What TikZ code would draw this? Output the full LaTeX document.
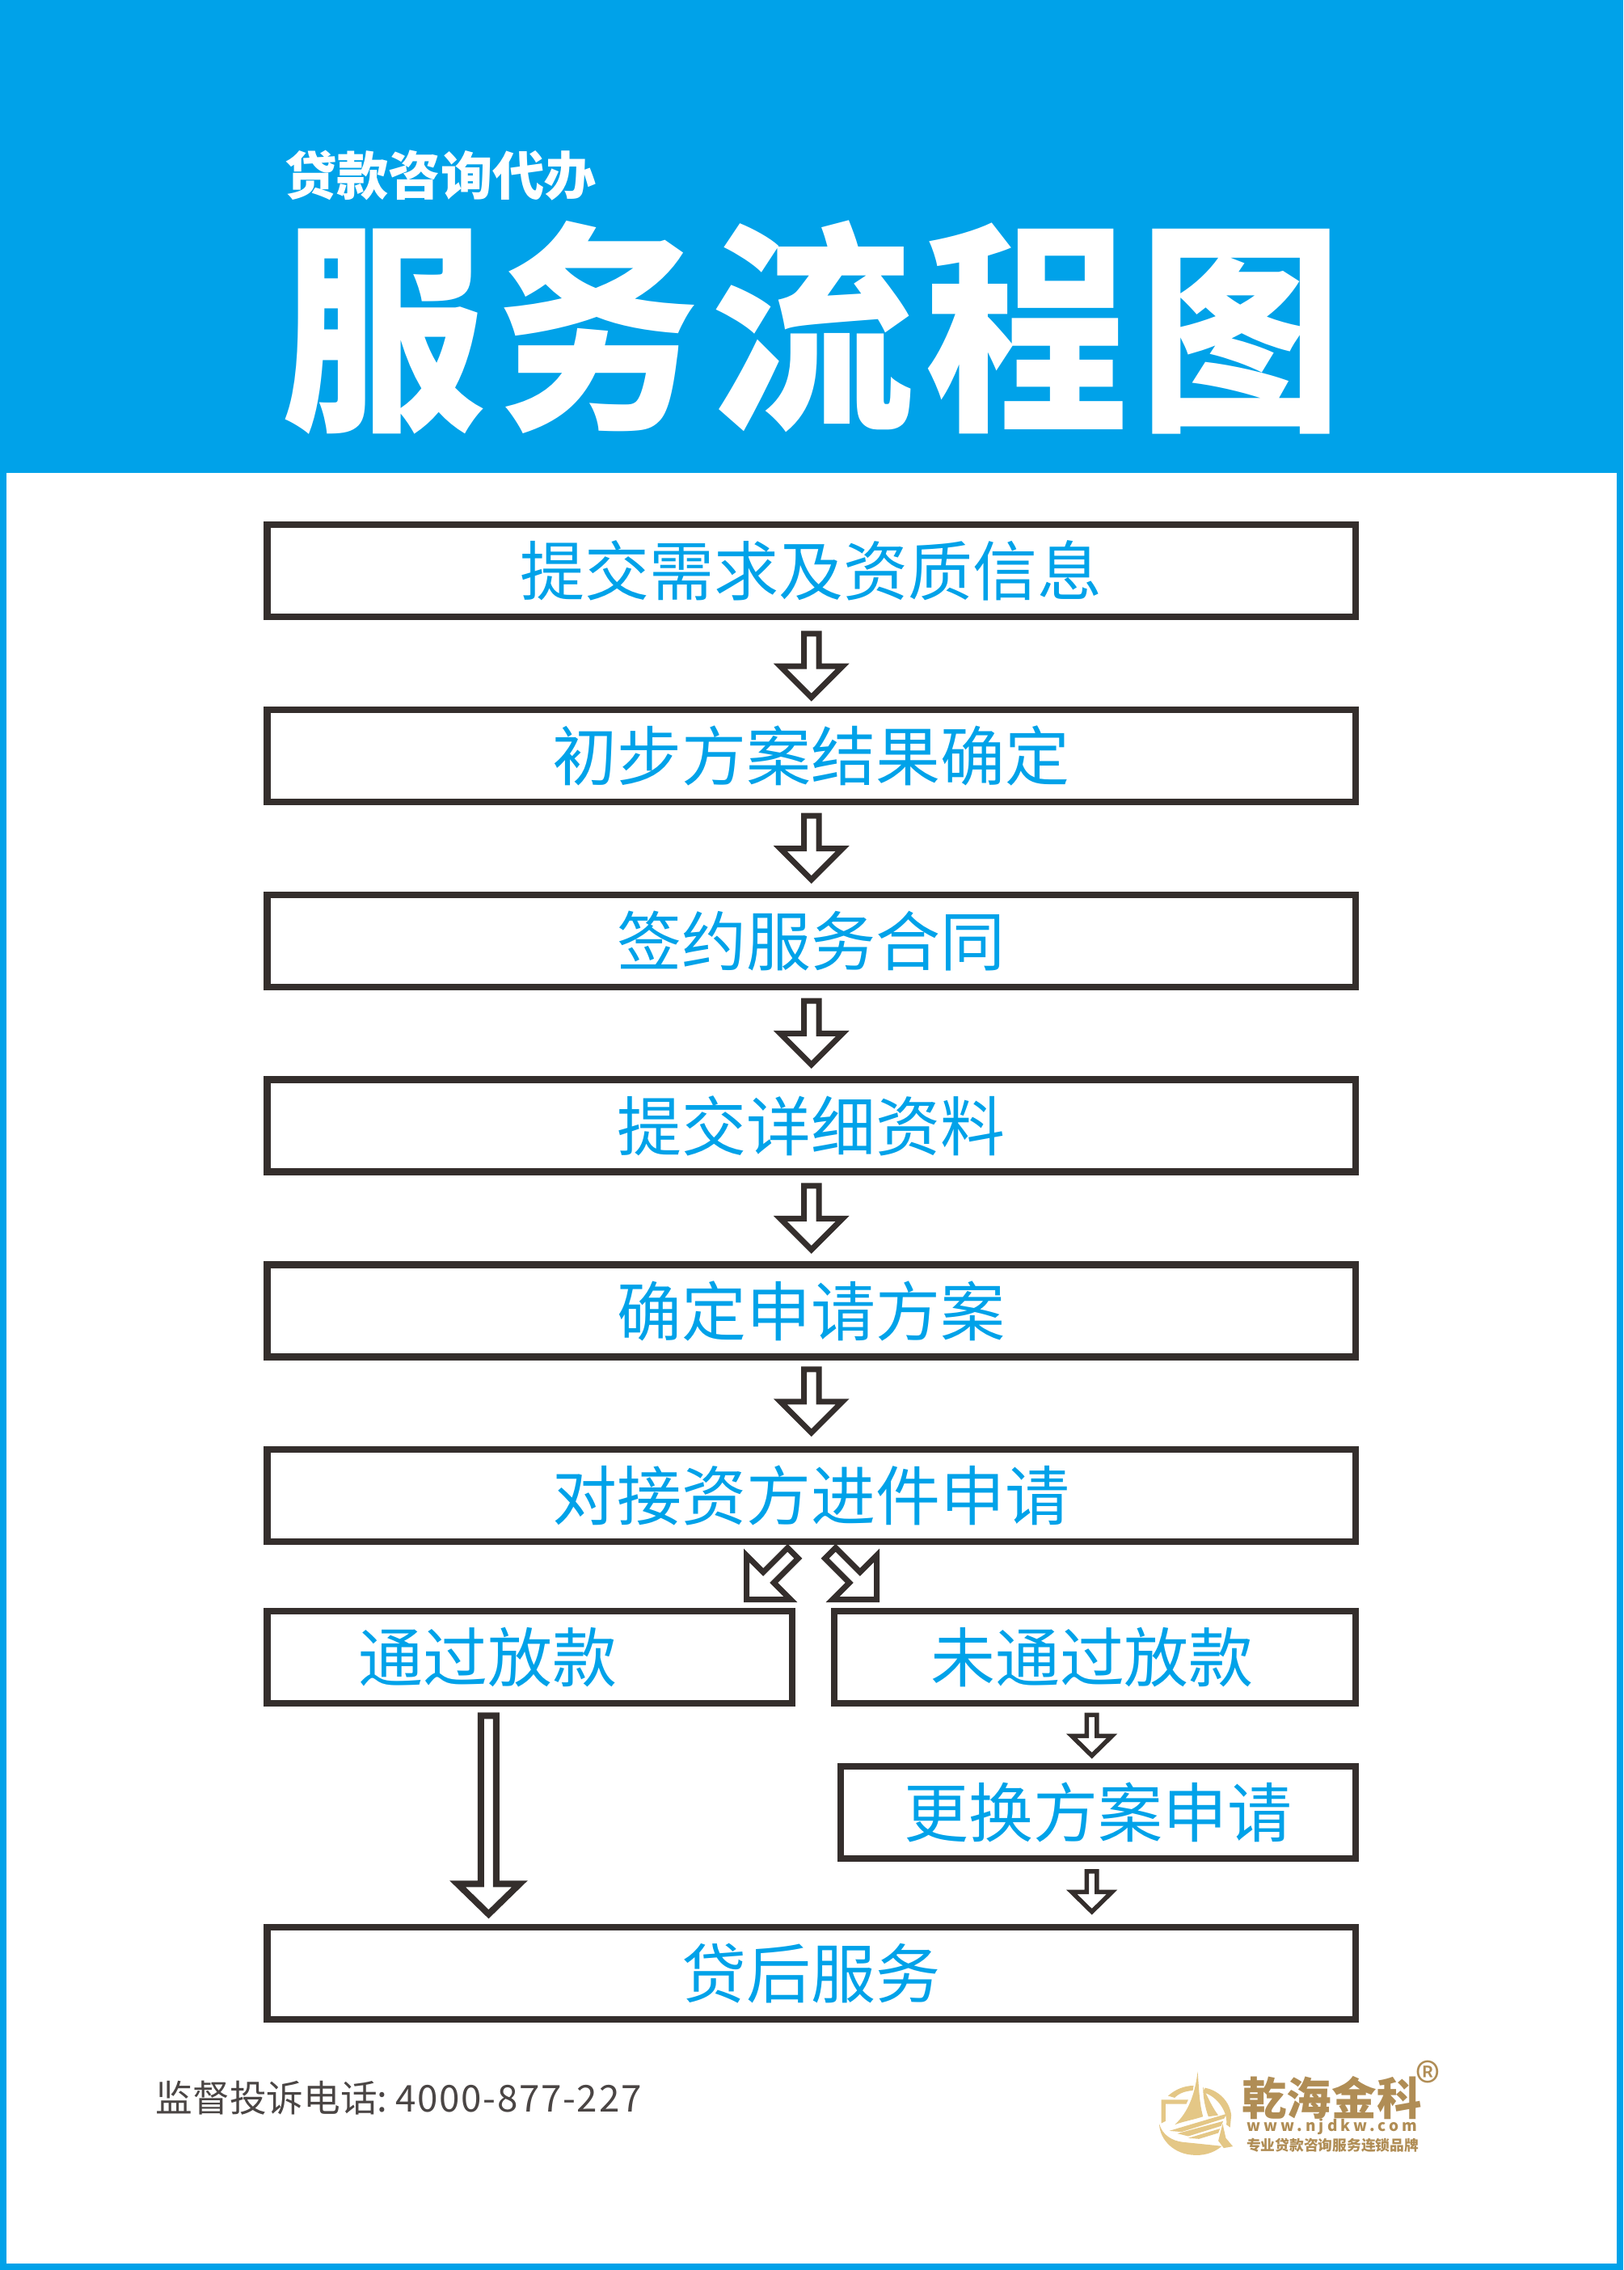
\documentclass[tikz,border=0pt]{standalone}
\usepackage{fontspec}
\usetikzlibrary{calc}
\setmainfont{Noto Sans CJK SC}
\newfontfamily\flowfont{Noto Sans CJK SC}
\newfontfamily\titlefont{Noto Sans CJK SC Black}
\definecolor{flowblue}{HTML}{00A2E9}
\definecolor{boxline}{HTML}{342E2C}
\definecolor{footgray}{HTML}{4A4544}
\definecolor{goldlight}{HTML}{E4C786}
\definecolor{golddark}{HTML}{B08D55}
\tikzset{
	flowbox/.style={draw=boxline, line width=.085cm, minimum height=1.14cm, inner sep=0pt, text=flowblue, font=\flowfont\fontsize{22.75}{27}\selectfont},
	hollowarrow/.style n args={5}{draw=boxline, to path={
		($(\tikztostart)!#4!(\tikztotarget)!#1!90:(\tikztotarget)$)
		-- ($(\tikztotarget)!#5+#3!(\tikztostart)!#1!-90:(\tikztostart)$)
		-- ($(\tikztotarget)!#5+#3!(\tikztostart)!#2!-90:(\tikztostart)$)
		-- ($(\tikztotarget)!#5!(\tikztostart)$)
		-- ($(\tikztotarget)!#5+#3!(\tikztostart)!#2!90:(\tikztostart)$)
		-- ($(\tikztotarget)!#5+#3!(\tikztostart)!#1!90:(\tikztostart)$)
		-- ($(\tikztostart)!#4!(\tikztotarget)!#1!-90:(\tikztotarget)$)
		-- cycle}},
	midarrow/.style 2 args={hollowarrow={.0925cm}{.385cm}{.385cm}{#1}{#2}, line width=.07cm},
	longarrow/.style 2 args={hollowarrow={.095cm}{.385cm}{.375cm}{#1}{#2}, line width=.08cm},
	smallarrow/.style 2 args={hollowarrow={.0625cm}{.25cm}{.245cm}{#1}{#2}, line width=.055cm},
}
\begin{document}
\begin{tikzpicture}
	\useasboundingbox (0,0) rectangle (20.08,-28.08);
	% page
	\fill[flowblue] (0,0) rectangle (20.08,-28.08);
	\fill[white] (.08,-5.85) rectangle (20,-28);
	% heading
	\node[text=white, font=\flowfont\bfseries\fontsize{18.3}{22}\selectfont, anchor=center] (subtitle) at (5.45,-2.175) {贷款咨询代办};
	\node[text=white, font=\titlefont\fontsize{73}{80}\selectfont, anchor=center, xscale=.98, yscale=1.08] (title) at (10.05,-4.05) {服\hspace{.14cm}务\hspace{.14cm}流\hspace{.14cm}程\hspace{.14cm}图};
	% boxes
	\node[flowbox, minimum width=13.465cm] (needbox) at (10.0375,-7.06) {提交需求及资质信息};
	\node[flowbox, minimum width=13.465cm] (planbox) at (10.0375,-9.349) {初步方案结果确定};
	\node[flowbox, minimum width=13.465cm] (signbox) at (10.0375,-11.638) {签约服务合同};
	\node[flowbox, minimum width=13.465cm] (filebox) at (10.0375,-13.927) {提交详细资料};
	\node[flowbox, minimum width=13.465cm] (fixbox) at (10.0375,-16.216) {确定申请方案};
	\node[flowbox, minimum width=13.465cm] (applybox) at (10.0375,-18.5) {对接资方进件申请};
	\node[flowbox, minimum width=6.495cm] (passbox) at (6.5525,-20.5) {通过放款\hspace{1.04cm}\null};
	\node[flowbox, minimum width=6.45cm] (failbox) at (13.545,-20.5) {未通过放款\hspace{.07cm}\null};
	\node[flowbox, minimum width=6.37cm] (swapbox) at (13.585,-22.42) {更换方案申请};
	\node[flowbox, minimum width=13.465cm] (afterbox) at (10.0375,-24.41) {贷后服务};
	% free ends
	\coordinate (splitla) at (9.808,-19.212);
	\coordinate (splitlb) at (9.235,-19.785);
	\coordinate (splitra) at (10.272,-19.212);
	\coordinate (splitrb) at (10.845,-19.785);
	\coordinate (passout) at ($(passbox.south)+(-.508,0)$);
	\coordinate (afterin) at (passout |- afterbox.north);
	\coordinate (failout) at ($(failbox.south)+(-.038,0)$);
	\coordinate (swapin) at (failout |- swapbox.north);
	\coordinate (swapout) at (failout |- swapbox.south);
	\coordinate (afterin2) at (failout |- afterbox.north);
	% arrows
	\draw[midarrow={.165cm}{.11cm}] (needbox.south) to (planbox.north);
	\draw[midarrow={.13cm}{.145cm}] (planbox.south) to (signbox.north);
	\draw[midarrow={.13cm}{.145cm}] (signbox.south) to (filebox.north);
	\draw[midarrow={.13cm}{.145cm}] (filebox.south) to (fixbox.north);
	\draw[midarrow={.11cm}{.165cm}] (fixbox.south) to (applybox.north);
	\draw[midarrow={0cm}{0cm}] (splitla) to (splitlb);
	\draw[midarrow={0cm}{0cm}] (splitra) to (splitrb);
	\draw[longarrow={.11cm}{.12cm}] (passout) to (afterin);
	\draw[smallarrow={.10cm}{.09cm}] (failout) to (swapin);
	\draw[smallarrow={.115cm}{.15cm}] (swapout) to (afterin2);
	% footer
	\node[text=footgray, font=\flowfont\fontsize{13}{16}\selectfont, anchor=west, inner sep=0pt] (phone) at (1.92,-25.95) {\spaceskip=.066cm\relax 监督投诉电话: {\addfontfeature{LetterSpace=3.7}4000-877-227}};
	% logo
	\begin{scope}[shift={(14.2cm,-25.5cm)}, x=.003333cm, y=-.003333cm]
		\fill[goldlight] (185,38) .. controls (176,120) and (150,190) .. (100,235) .. controls (135,222) and (165,218) .. (205,205) .. controls (190,150) and (190,90) .. (185,38) -- cycle;
		\fill[goldlight] (205,95) .. controls (220,130) and (245,180) .. (262,200) -- (225,205) .. controls (212,170) and (205,130) .. (205,95) -- cycle;
		\fill[goldlight] (75,128) .. controls (100,105) and (135,90) .. (170,90) -- (167,108) .. controls (140,110) and (115,118) .. (100,135) -- cycle;
		\fill[goldlight] (50,142) -- (150,142) -- (143,158) -- (66,158) -- (66,222) -- (50,230) -- cycle;
		\fill[goldlight] (212,98) .. controls (265,108) and (305,150) .. (310,200) -- (306,245) -- (292,235) .. controls (298,190) and (260,130) .. (208,116) -- cycle;
		\fill[goldlight] (80,258) -- (292,195) -- (284,212) -- (125,262) -- cycle;
		\fill[goldlight] (110,268) -- (280,222) -- (272,240) -- (150,278) -- cycle;
		\fill[goldlight] (150,285) -- (268,250) -- (262,266) -- (190,288) -- cycle;
		\fill[goldlight] (278,232) -- (290,285) -- (316,316) -- (282,322) -- (262,295) -- cycle;
		\fill[goldlight] (42,232) .. controls (55,275) and (90,295) .. (130,300) .. controls (180,305) and (230,310) .. (275,315) .. controls (240,345) and (200,350) .. (170,348) .. controls (100,345) and (45,295) .. (42,232) -- cycle;
	\end{scope}
	\node[text=golddark, font=\flowfont\bfseries\fontsize{15.8}{18}\selectfont, anchor=center, inner sep=0pt] (brand) at (16.475,-25.95) {乾海金科};
	\node[text=golddark, font=\flowfont\bfseries\fontsize{5.4}{6}\selectfont\addfontfeature{LetterSpace=22}, anchor=center, inner sep=0pt] (site) at (16.48,-26.31) {www.njdkw.com};
	\node[text=golddark, font=\flowfont\bfseries\fontsize{5.05}{6}\selectfont, anchor=center, inner sep=0pt] (slogan) at (16.485,-26.54) {专业贷款咨询服务连锁品牌};
	\node[text=golddark, font=\flowfont\fontsize{18}{20}\selectfont, anchor=center, inner sep=0pt] (mark) at (17.66,-25.74) {®};
\end{tikzpicture}
\end{document}
